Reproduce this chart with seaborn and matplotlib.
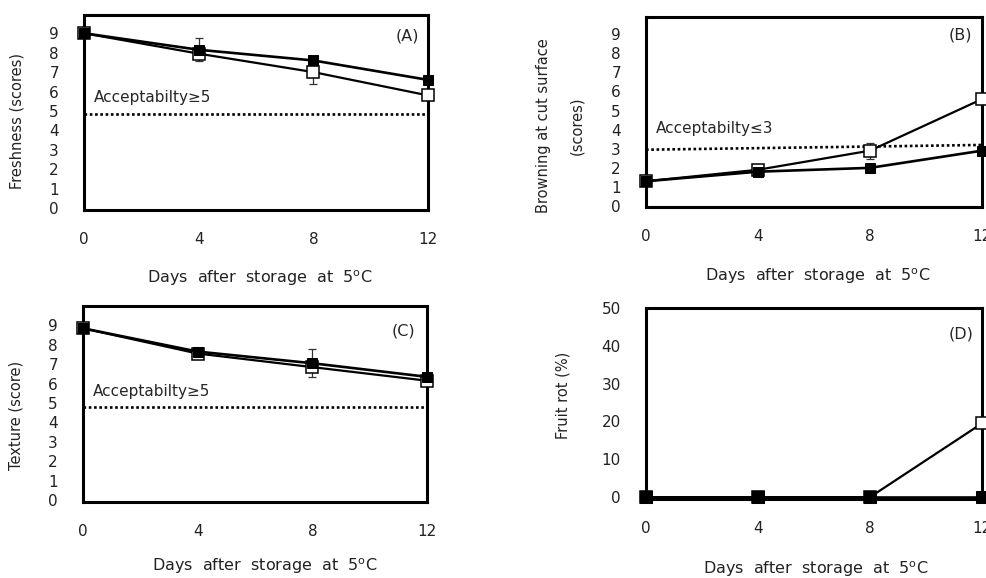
import numpy as np
import pandas as pd
import matplotlib
matplotlib.use("Agg")
import matplotlib.pyplot as plt
import seaborn as sns

sns.set_theme(style="white")
plt.rcParams['font.family'] = ['DejaVu Sans']

days = [0, 4, 8, 12]

# (A) Freshness
fresh_filled = [9.0, 8.15, 7.6, 6.6]
fresh_open = [9.0, 7.95, 7.0, 5.8]
fresh_filled_err = [0, 0.6, 0, 0]
fresh_open_err = [0, 0, 0.6, 0]

# (B) Browning
brown_filled = [1.3, 1.8, 2.0, 2.9]
brown_open = [1.3, 1.9, 2.9, 5.6]
brown_filled_err = [0, 0, 0, 0]
brown_open_err = [0, 0, 0.42, 0]

# (C) Texture
tex_filled = [8.85, 7.65, 7.05, 6.35]
tex_open = [8.85, 7.55, 6.85, 6.15]
tex_filled_err = [0, 0, 0.72, 0]
tex_open_err = [0, 0, 0, 0]

# (D) Fruit rot
rot_filled = [0, 0, 0, 0]
rot_open = [0, 0, 0, 19.5]

limit_A = [4.85, 4.85]
limit_B = [2.95, 3.2]
limit_C = [4.8, 4.8]

xlabel = "Days  after  storage  at  5$^{\\rm o}$C"

fig = plt.figure(figsize=(9.87, 5.78), dpi=100)
W, H = 987, 578


def add_ax(l, r, t, b):
    return fig.add_axes([l / W, (H - b) / H, (r - l) / W, (b - t) / H])


axA = add_ax(84, 428, 15, 210)
axB = add_ax(646, 982, 17, 207)
axC = add_ax(83, 427, 306, 502)
axD = add_ax(646, 982, 308, 499)


def draw(ax, filled, opened, ferr=None, oerr=None, fsize=7.5):
    if oerr is not None:
        ax.errorbar(days, opened, yerr=oerr, fmt='none', ecolor='#333333',
                    elinewidth=0.9, capsize=3, capthick=0.9, zorder=2)
    if ferr is not None:
        ax.errorbar(days, filled, yerr=ferr, fmt='none', ecolor='#333333',
                    elinewidth=0.9, capsize=3, capthick=0.9, zorder=2)
    sns.lineplot(x=days, y=opened, ax=ax, color='black', linewidth=1.6,
                 marker='s', markersize=8.5, markerfacecolor='white',
                 markeredgecolor='black', markeredgewidth=1.1, zorder=3,
                 clip_on=False)
    sns.lineplot(x=days, y=filled, ax=ax, color='black', linewidth=1.9,
                 marker='s', markersize=fsize, markerfacecolor='black',
                 markeredgecolor='black', zorder=4, clip_on=False)


def style(ax, ylim, yticks, ylabel, ylab_xy, xlab_xy):
    ax.set_xlim(0, 12)
    ax.set_ylim(*ylim)
    ax.set_xticks(days)
    ax.set_xticklabels([str(d) for d in days])
    ax.set_yticks(yticks)
    ax.set_yticklabels([str(t) for t in yticks])
    for s in ax.spines.values():
        s.set_color('black')
        s.set_linewidth(2.2)
        s.set_visible(True)
    ax.tick_params(axis='both', which='major', direction='out', length=5,
                   width=0.8, color='#aaaaaa', labelsize=11, labelcolor='#222222')
    ax.tick_params(axis='x', pad=11)
    ax.tick_params(axis='y', pad=13)
    ax.set_ylabel(ylabel, fontsize=10.5, color='#222222', linespacing=2.5)
    ax.yaxis.set_label_coords(*ylab_xy)
    ax.set_xlabel(xlabel, fontsize=11.5, color='#222222')
    ax.xaxis.set_label_coords(*xlab_xy)
    ax.grid(False)


# A
draw(axA, fresh_filled, fresh_open, fresh_filled_err, fresh_open_err)
sns.lineplot(x=[0, 12], y=limit_A, ax=axA, color='black', linewidth=1.9,
             linestyle=(0, (1, 1)), zorder=1)
axA.text(0.35, 5.7, "Acceptabilty\u22655", fontsize=11, va='center', ha='left')
axA.text(11.7, 8.85, "(A)", fontsize=11.5, va='center', ha='right')
style(axA, (-0.1, 9.94), list(range(10)), "Freshness (scores)",
      (-0.174, 0.456), (0.51, -0.297))

# B
draw(axB, brown_filled, brown_open, brown_filled_err, brown_open_err)
sns.lineplot(x=[0, 12], y=limit_B, ax=axB, color='black', linewidth=1.9,
             linestyle=(0, (1, 1)), zorder=1)
axB.text(0.35, 4.08, "Acceptabilty\u22643", fontsize=11, va='center', ha='left')
axB.text(11.65, 8.95, "(B)", fontsize=11.5, va='center', ha='right')
style(axB, (-0.05, 9.9), list(range(10)), "Browning at cut surface\n(scores)",
      (-0.185, 0.43), (0.51, -0.31))

# C
draw(axC, tex_filled, tex_open, tex_filled_err, tex_open_err)
sns.lineplot(x=[0, 12], y=limit_C, ax=axC, color='black', linewidth=1.9,
             linestyle=(0, (1, 1)), zorder=1)
axC.text(0.35, 5.6, "Acceptabilty\u22655", fontsize=11, va='center', ha='left')
axC.text(11.6, 8.7, "(C)", fontsize=11.5, va='center', ha='right')
style(axC, (-0.1, 10.0), list(range(10)), "Texture (score)",
      (-0.172, 0.44), (0.527, -0.276))

# D
draw(axD, rot_filled, rot_open, fsize=9)
axD.text(11.7, 43.2, "(D)", fontsize=11.5, va='center', ha='right')
style(axD, (-0.5, 49.6), [0, 10, 20, 30, 40, 50], "Fruit rot (%)",
      (-0.226, 0.545), (0.506, -0.314))

fig.savefig("out.png", dpi=100)
